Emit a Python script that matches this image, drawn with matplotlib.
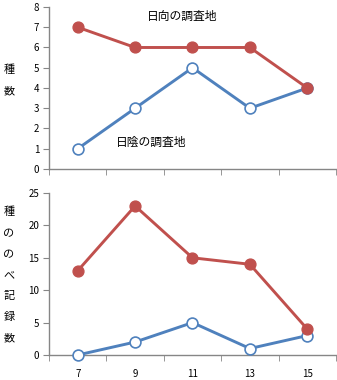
import matplotlib
matplotlib.use("Agg")
import matplotlib.pyplot as plt
from matplotlib.ticker import FixedLocator, NullFormatter

plt.rcParams['font.family'] = ['Noto Sans CJK JP', 'DejaVu Sans']

# data
months = ['7', '9', '11', '13', '15']
species_sun = [7, 6, 6, 6, 4]
species_shade = [1, 3, 5, 3, 4]
records_sun = [13, 23, 15, 14, 4]
records_shade = [0, 2, 5, 1, 3]

RED = '#C0504D'
BLUE = '#4F81BD'
GRAY = '#868686'

fig = plt.figure(figsize=(3.37, 3.80), dpi=100)
ax1 = fig.add_axes([0.1454, 0.5553, 0.8516, 0.4263])
ax2 = fig.add_axes([0.1454, 0.0658, 0.8516, 0.4263])

x = list(range(len(months)))


def style(ax, sun, shade, ymax, step, show_x):
    ax.plot(x, shade, color=BLUE, lw=2.1, marker='o', ms=7.8,
            mfc='white', mec=BLUE, mew=1.2, clip_on=False, zorder=3)
    ax.plot(x, sun, color=RED, lw=2.1, marker='o', ms=7.8,
            mfc=RED, mec=RED, clip_on=False, zorder=4)
    ax.set_xlim(-0.5, len(months) - 0.5)
    ax.set_ylim(0, ymax)
    ax.set_yticks(range(0, ymax + 1, step))
    ax.xaxis.set_major_locator(FixedLocator(x))
    ax.xaxis.set_minor_locator(
        FixedLocator([i - 0.5 for i in range(len(months) + 1)]))
    if show_x:
        ax.set_xticklabels(months)
    else:
        ax.xaxis.set_major_formatter(NullFormatter())
    ax.tick_params(axis='x', which='major', length=0, labelsize=7, pad=10)
    ax.tick_params(axis='x', which='minor', length=4, color=GRAY)
    ax.tick_params(axis='y', length=4, color=GRAY, labelsize=7, pad=3)
    for s in ['top', 'right']:
        ax.spines[s].set_visible(False)
    for s in ['left', 'bottom']:
        ax.spines[s].set_color(GRAY)
        ax.spines[s].set_linewidth(1.0)


style(ax1, species_sun, species_shade, 8, 1, False)
style(ax2, records_sun, records_shade, 25, 5, True)

ax1.text(1.82, 7.55, '日向の調査地', fontsize=8.5, ha='center', va='center')
ax1.text(1.28, 1.3, '日陰の調査地', fontsize=8.5, ha='center', va='center')

# vertical y labels, one character per line
H = 380.0
for i, ch in enumerate('種数'):
    fig.text(9 / 337, 1 - (70 + 21 * i) / H, ch, fontsize=8,
             ha='center', va='center')
for i, ch in enumerate('種ののべ記録数'):
    fig.text(9 / 337, 1 - (212 + 21 * i) / H, ch, fontsize=8,
             ha='center', va='center')

plt.savefig('out.png', dpi=100)
